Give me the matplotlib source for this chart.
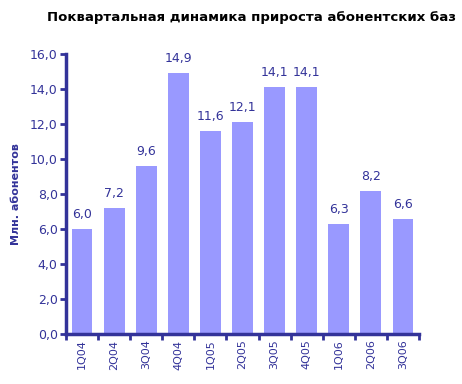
import matplotlib
matplotlib.use("Agg")
import matplotlib.pyplot as plt
import numpy as np

categories = ["1Q04", "2Q04", "3Q04", "4Q04", "1Q05", "2Q05", "3Q05", "4Q05", "1Q06", "2Q06", "3Q06"]
values = [6.0, 7.2, 9.6, 14.9, 11.6, 12.1, 14.1, 14.1, 6.3, 8.2, 6.6]
yticks = [0, 2, 4, 6, 8, 10, 12, 14, 16]
title = "Поквартальная динамика прироста абонентских баз"
ylabel = "Млн. абонентов"

navy = "#333399"
barc = "#9999FF"

fig = plt.figure(figsize=(4.62, 3.84), dpi=100)
ax = fig.add_axes([66/462, 1-334/384, (419-66)/462, (334-54)/384])

x = np.arange(len(categories))
ax.bar(x, values, width=0.65, color=barc, zorder=2)
for xi, v in zip(x, values):
    ax.text(xi, v + 0.45, f"{v:.1f}".replace(".", ","), ha="center", va="bottom",
            fontsize=9, color=navy)

ax.set_xlim(-0.5, len(categories) - 0.5)
ax.set_ylim(0, 16)
ax.set_yticks(yticks)
ax.set_yticklabels([f"{t:.1f}".replace(".", ",") for t in yticks], fontsize=9, color=navy)
ax.set_xticks(x)
ax.set_xticklabels(categories, rotation=90, fontsize=8, color=navy)
ax.tick_params(axis="x", length=0, pad=4)
ax.set_xticks(np.arange(-0.5, len(categories)), minor=True)
ax.tick_params(axis="x", which="minor", length=4, width=2, color=navy, direction="out")
ax.tick_params(axis="y", length=4, width=2, color=navy, direction="out", pad=2)

for s in ["top", "right"]:
    ax.spines[s].set_visible(False)
for s in ["left", "bottom"]:
    ax.spines[s].set_color(navy)
    ax.spines[s].set_linewidth(2.5)

ax.set_ylabel(ylabel, fontsize=8, fontweight="bold", color=navy, labelpad=6)
fig.text(252/462, 1-18/384, title, ha="center", va="center", fontsize=9.5, fontweight="bold", color="black")

fig.savefig("out.png", dpi=100)
